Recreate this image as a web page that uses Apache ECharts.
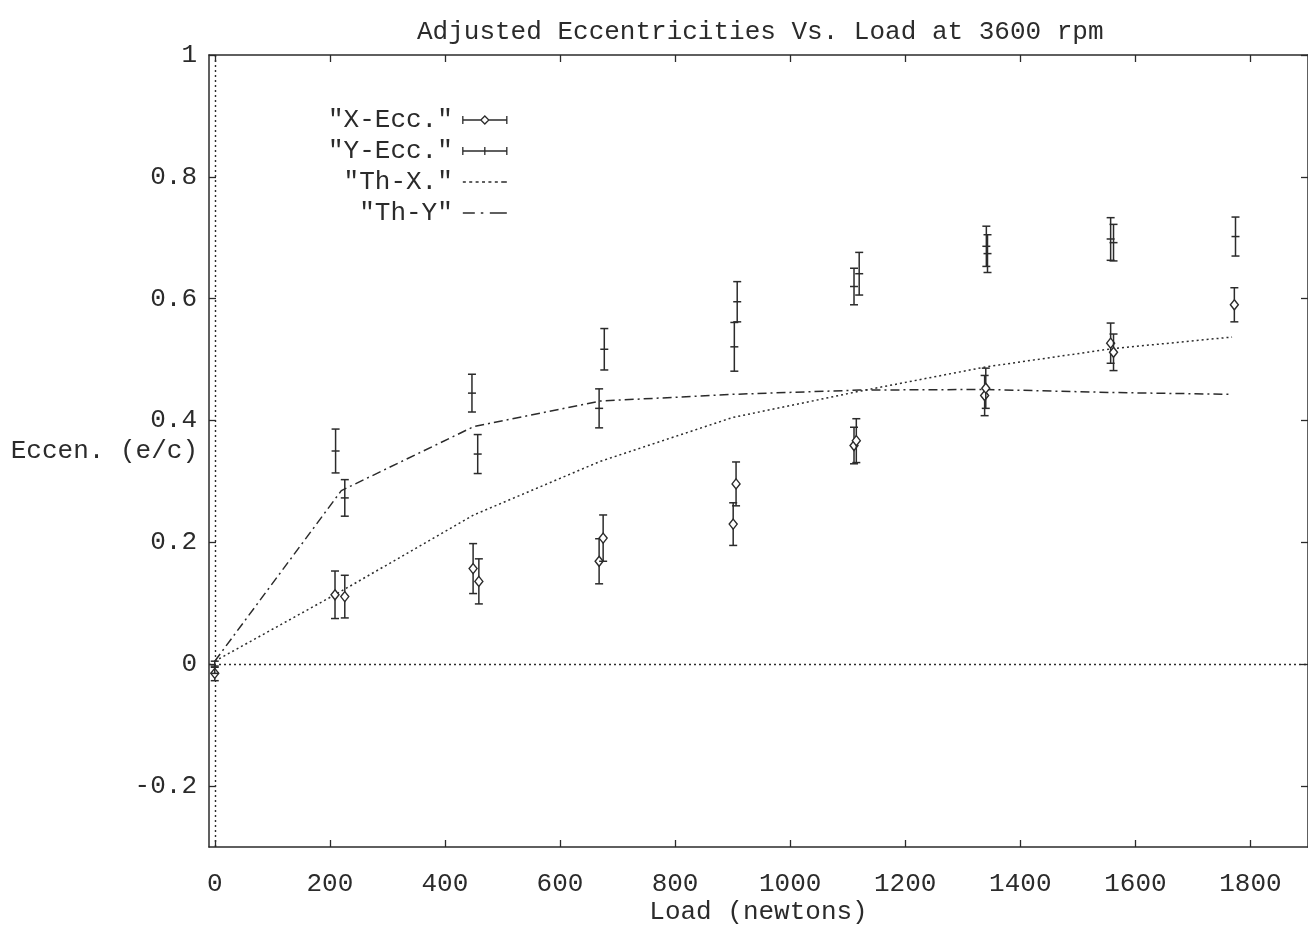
<!DOCTYPE html>
<html>
<head>
<meta charset="utf-8">
<script src="https://cdn.jsdelivr.net/npm/echarts@6/dist/echarts.min.js"></script>
<style>
html,body{margin:0;padding:0;background:#fff;}
#chart{width:1308px;height:938px;}
</style>
</head>
<body>
<div id="chart"></div>
<script>
// ---- data ----
const xTicks = [0, 200, 400, 600, 800, 1000, 1200, 1400, 1600, 1800];
const yTicks = [-0.2, 0, 0.2, 0.4, 0.6, 0.8, 1];

const xEccLoad  = [0, 209, 226, 449, 459, 668, 675, 901, 906, 1111, 1115, 1338, 1340, 1557, 1562, 1772];
const xEccValue = [-0.015, 0.114, 0.111, 0.157, 0.136, 0.169, 0.207, 0.230, 0.296, 0.359, 0.367, 0.441, 0.453, 0.527, 0.512, 0.590];
const xEccError = [0.012, 0.039, 0.035, 0.041, 0.037, 0.037, 0.038, 0.035, 0.036, 0.030, 0.036, 0.033, 0.033, 0.033, 0.030, 0.028];

const yEccLoad  = [0, 210, 226, 447, 457, 668, 677, 903, 908, 1111, 1120, 1341, 1343, 1557, 1562, 1774];
const yEccValue = [-0.005, 0.350, 0.273, 0.445, 0.345, 0.420, 0.517, 0.521, 0.595, 0.620, 0.641, 0.686, 0.674, 0.698, 0.692, 0.702];
const yEccError = [0.010, 0.036, 0.030, 0.031, 0.032, 0.032, 0.034, 0.040, 0.033, 0.030, 0.035, 0.033, 0.031, 0.035, 0.030, 0.032];

const thLoad = [0, 220, 450, 670, 900, 1120, 1340, 1560, 1768];
const thX    = [0.005, 0.120, 0.245, 0.333, 0.405, 0.448, 0.488, 0.518, 0.537];
const thY    = [0.005, 0.285, 0.390, 0.432, 0.443, 0.450, 0.451, 0.446, 0.443];

const names = ['"X-Ecc."', '"Y-Ecc."', '"Th-X."', '"Th-Y"'];

// ---- build ----
const INK = '#2b2b2b';
const FONT = '"Liberation Mono", "DejaVu Sans Mono", monospace';

const zip3 = (a, b, c) => a.map((v, i) => [v, b[i], c[i]]);
const zip2 = (a, b) => a.map((v, i) => [v, b[i]]);

function errRender(marker) {
  return function (params, api) {
    const x = api.value(0), y = api.value(1), e = api.value(2);
    const c = api.coord([x, y]);
    const hi = api.coord([x, y + e]);
    const lo = api.coord([x, y - e]);
    const cap = 4;
    const style = { stroke: INK, lineWidth: 1.5, fill: null };
    const ch = [
      { type: 'line', shape: { x1: c[0], y1: hi[1], x2: c[0], y2: lo[1] }, style },
      { type: 'line', shape: { x1: c[0] - cap, y1: hi[1], x2: c[0] + cap, y2: hi[1] }, style },
      { type: 'line', shape: { x1: c[0] - cap, y1: lo[1], x2: c[0] + cap, y2: lo[1] }, style }
    ];
    if (marker === 'diamond') {
      ch.push({ type: 'polygon', shape: { points: [[c[0], c[1] - 5], [c[0] + 4, c[1]], [c[0], c[1] + 5], [c[0] - 4, c[1]]] },
        style: { stroke: INK, lineWidth: 1.4, fill: '#ffffff' } });
    } else {
      ch.push({ type: 'line', shape: { x1: c[0] - 4, y1: c[1], x2: c[0] + 4, y2: c[1] }, style });
    }
    return { type: 'group', children: ch };
  };
}

// legend sample icons (filled little rectangles, 44px wide)
function dashIcon(segs) {
  return 'path://' + segs.map(s => `M${s[0]},0 L${s[1]},0 L${s[1]},1.6 L${s[0]},1.6 Z`).join(' ');
}
const dotSegs = [];
for (let p = 0; p < 44; p += 6.4) dotSegs.push([p, Math.min(p + 3, 44)]);
dotSegs[dotSegs.length - 1][1] = 44;
const dotIcon = dashIcon(dotSegs);
const dashDotIcon = dashIcon([[0, 12], [18, 20.5], [27, 44]]);

const chart = echarts.init(document.getElementById('chart'), null, { renderer: 'canvas' });

const textBase = { fontFamily: FONT, color: INK, fontSize: 26 };

const option = {
  animation: false,
  backgroundColor: '#ffffff',
  title: {
    text: 'Adjusted Eccentricities Vs. Load at 3600 rpm',
    left: 412, top: 14,
    textStyle: { fontFamily: FONT, color: INK, fontSize: 26, fontWeight: 'normal' }
  },
  legend: {
    orient: 'vertical',
    align: 'right',
    left: 323, top: 102,
    itemWidth: 44, itemHeight: 10, itemGap: 5,
    symbolKeepAspect: true,
    textStyle: { fontFamily: FONT, color: INK, fontSize: 26, padding: [0, 5, 0, 0] },
    data: [
      { name: names[0], icon: 'path://M0,1 L0,9 M0,5 L18,5 M26,5 L44,5 M44,1 L44,9 M22,1 L26,5 L22,9 L18,5 Z',
        itemStyle: { color: 'rgba(0,0,0,0)', borderColor: INK, borderWidth: 1.3 } },
      { name: names[1], icon: 'path://M0,1 L0,9 M0,5 L44,5 M44,1 L44,9 M22,1 L22,9',
        itemStyle: { color: 'rgba(0,0,0,0)', borderColor: INK, borderWidth: 1.3 } },
      { name: names[2], icon: dotIcon, itemStyle: { color: INK, borderWidth: 0 } },
      { name: names[3], icon: dashDotIcon, itemStyle: { color: INK, borderWidth: 0 } }
    ]
  },
  grid: { left: 209, right: 0, top: 55, bottom: 91, containLabel: false, outerBoundsMode: 'none' },
  xAxis: [
    {
      type: 'value', min: -10, max: 1900, position: 'bottom',
      axisLine: { show: true, onZero: false, lineStyle: { color: INK, width: 1.5 } },
      axisTick: { show: true, inside: true, length: 7, customValues: xTicks, lineStyle: { color: INK, width: 1.3 } },
      axisLabel: { customValues: xTicks, margin: 24, ...textBase, formatter: v => String(v) },
      splitLine: { show: false },
      name: 'Load (newtons)', nameLocation: 'middle', nameGap: 52, nameMoveOverlap: false,
      nameTextStyle: textBase
    },
    {
      type: 'value', min: -10, max: 1900, position: 'top',
      axisLine: { show: true, onZero: false, lineStyle: { color: INK, width: 1.5 } },
      axisTick: { show: true, inside: true, length: 7, customValues: xTicks, lineStyle: { color: INK, width: 1.3 } },
      axisLabel: { show: false },
      splitLine: { show: false }
    }
  ],
  yAxis: [
    {
      type: 'value', min: -0.3, max: 1, position: 'left',
      axisLine: { show: true, onZero: false, lineStyle: { color: INK, width: 1.5 } },
      axisTick: { show: true, inside: true, length: 7, customValues: yTicks, lineStyle: { color: INK, width: 1.3 } },
      axisLabel: { customValues: yTicks, margin: 12, ...textBase,
        formatter: v => String(Math.round(v * 10) / 10) },
      splitLine: { show: false },
      name: 'Eccen. (e/c)', nameLocation: 'middle', nameRotate: 0, nameGap: 11, nameMoveOverlap: false,
      nameTextStyle: { ...textBase, align: 'right', verticalAlign: 'middle' }
    },
    {
      type: 'value', min: -0.3, max: 1, position: 'right',
      axisLine: { show: true, onZero: false, lineStyle: { color: INK, width: 1.5 } },
      axisTick: { show: true, inside: true, length: 7, customValues: yTicks, lineStyle: { color: INK, width: 1.3 } },
      axisLabel: { show: false },
      splitLine: { show: false }
    }
  ],
  series: [
    {
      name: names[0], type: 'custom', xAxisIndex: 0, yAxisIndex: 0,
      renderItem: errRender('diamond'), encode: { x: 0, y: 1 },
      data: zip3(xEccLoad, xEccValue, xEccError), z: 5
    },
    {
      name: names[1], type: 'custom', xAxisIndex: 0, yAxisIndex: 0,
      renderItem: errRender('plus'), encode: { x: 0, y: 1 },
      data: zip3(yEccLoad, yEccValue, yEccError), z: 5
    },
    {
      name: names[2], type: 'line', xAxisIndex: 0, yAxisIndex: 0,
      data: zip2(thLoad, thX), showSymbol: false, symbol: 'none',
      itemStyle: { color: INK },
      lineStyle: { color: INK, width: 1.5, type: [2, 3] },
      markLine: {
        silent: true, symbol: 'none', label: { show: false },
        lineStyle: { color: INK, width: 1.4, type: [2, 3] },
        data: [{ xAxis: 0 }, { yAxis: 0 }]
      }
    },
    {
      name: names[3], type: 'line', xAxisIndex: 0, yAxisIndex: 0,
      data: zip2(thLoad, thY), showSymbol: false, symbol: 'none',
      itemStyle: { color: INK },
      lineStyle: { color: INK, width: 1.5, type: [9, 4, 2, 4] }
    }
  ]
};
chart.setOption(option);
</script>
</body>
</html>
